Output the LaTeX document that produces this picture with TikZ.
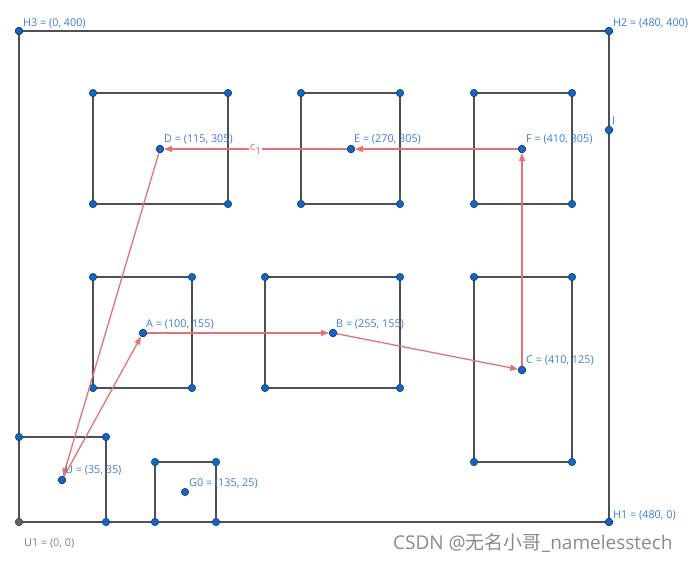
\documentclass[tikz,border=0pt]{standalone}
\usepackage{fontspec}
\setmainfont{Open Sans}
\newfontfamily\cjkfont{Noto Sans CJK SC}
\usetikzlibrary{arrows.meta}
\definecolor{ptblue}{HTML}{1565C0}
\definecolor{ptedge}{HTML}{0D3A73}
\definecolor{lblblue}{HTML}{3B7DD8}
\definecolor{boxgrey}{HTML}{505050}
\definecolor{arrred}{HTML}{E57373}
\definecolor{wmgrey}{HTML}{8A8A8A}
\tikzset{
  pt/.style={circle,fill=ptblue,draw=ptedge,line width=0.5pt,inner sep=0pt,minimum size=7.5pt},
  gpt/.style={pt,fill=boxgrey!90,draw=boxgrey},
  lbl/.style={anchor=base west,inner sep=0pt,text=lblblue,font=\fontsize{10.8}{12}\selectfont},
  glbl/.style={lbl,text=gray},
  boxline/.style={draw=boxgrey,line width=1.4pt},
  arr/.style={draw=arrred,line width=1.3pt,-{Triangle[length=8pt,width=6pt]}},
}
\begin{document}
\begin{tikzpicture}[x=1pt,y=-1pt]
\useasboundingbox (0,0) rectangle (692,560);
% outer frame corners
\node[pt] (H3) at (19,31) {};
\node[pt] (H2) at (609,31) {};
\node[pt] (H1) at (609,522) {};
\node[gpt] (U1) at (19,522) {};
\node[pt] (I) at (609,130) {};
% boxes
\foreach \n/\xa/\ya/\xb/\yb in {d/93/93/228/204, e/301/93/400/204, f/474/93/572/204,
  a/93/277/192/388, b/265/277/400/388, c/474/277/572/462,
  u/19/437/106/522, g/155/462/216/522}{
  \coordinate (\n1) at (\xa,\ya);
  \coordinate (\n2) at (\xb,\ya);
  \coordinate (\n3) at (\xb,\yb);
  \coordinate (\n4) at (\xa,\yb);
}
\draw[boxline] (H3.center) -- (H2.center) -- (I.center) -- (H1.center) -- (U1.center) -- cycle;
\foreach \n in {d,e,f,a,b,c,u,g}{
  \draw[boxline] (\n1) -- (\n2) -- (\n3) -- (\n4) -- cycle;
}
\foreach \n in {d,e,f,a,b,c,g}{
  \foreach \k in {1,2,3,4}{ \node[pt] (\n\k p) at (\n\k) {}; }
}
\foreach \k in {1,2,3}{ \node[pt] (u\k p) at (u\k) {}; }
% redraw frame corner dots on top
\node[pt] at (H3) {};
\node[pt] at (H2) {};
\node[pt] at (H1) {};
\node[pt] at (I) {};
\node[gpt] at (U1) {};
% path points
\node[pt] (D) at (160,149) {};
\node[pt] (E) at (351,149) {};
\node[pt] (F) at (522,149) {};
\node[pt] (A) at (143,333) {};
\node[pt] (B) at (333,333) {};
\node[pt] (C) at (522,370) {};
\node[pt] (U) at (62,480) {};
\node[pt] (G0) at (185,492) {};
% arrows
\draw[arr] (E) -- (D) node[pos=0.5,fill=white,inner sep=0.6pt,text=arrred,font=\fontsize{11.5}{12}\selectfont,yshift=-0.5pt] (c1) {c\raisebox{-4pt}{\fontsize{10}{10}\selectfont 1}};
\draw[arr] (F) -- (E);
\draw[arr] (C) -- (F);
\draw[arr] (B) -- (C);
\draw[arr] (A) -- (B);
\draw[arr] (U) -- (A);
\draw[arr] (D) -- (U);
% redraw points over arrows
\foreach \p in {D,E,F,A,B,C,U}{ \node[pt] at (\p) {}; }
% labels
\node[lbl] (lH3) at (23,26) {H3 = (0, 400)};
\node[lbl] (lH2) at (613,26) {H2 = (480, 400)};
\node[lbl] (lH1) at (613,518) {H1 = (480, 0)};
\node[glbl] (lU1) at (24,546) {U1 = (0, 0)};
\node[lbl] (lI) at (612,124) {I};
\node[lbl] (lD) at (164,142) {D = (115, 305)};
\node[lbl] (lE) at (354,142) {E = (270, 305)};
\node[lbl] (lF) at (526,142) {F = (410, 305)};
\node[lbl] (lA) at (146,327) {A = (100, 155)};
\node[lbl] (lB) at (336,327) {B = (255, 155)};
\node[lbl] (lC) at (526,363) {C = (410, 125)};
\node[lbl] (lU) at (65,473) {U = (35, 35)};
\node[lbl] (lG0) at (189,486) {G0 = (135, 25)};
% watermark
\node[anchor=base west,inner sep=0pt,text=wmgrey,font=\fontsize{19}{20}\selectfont] (wm) at (393,549) {CSDN @{\cjkfont 无名小哥}\_namelesstech};
\end{tikzpicture}
\end{document}
